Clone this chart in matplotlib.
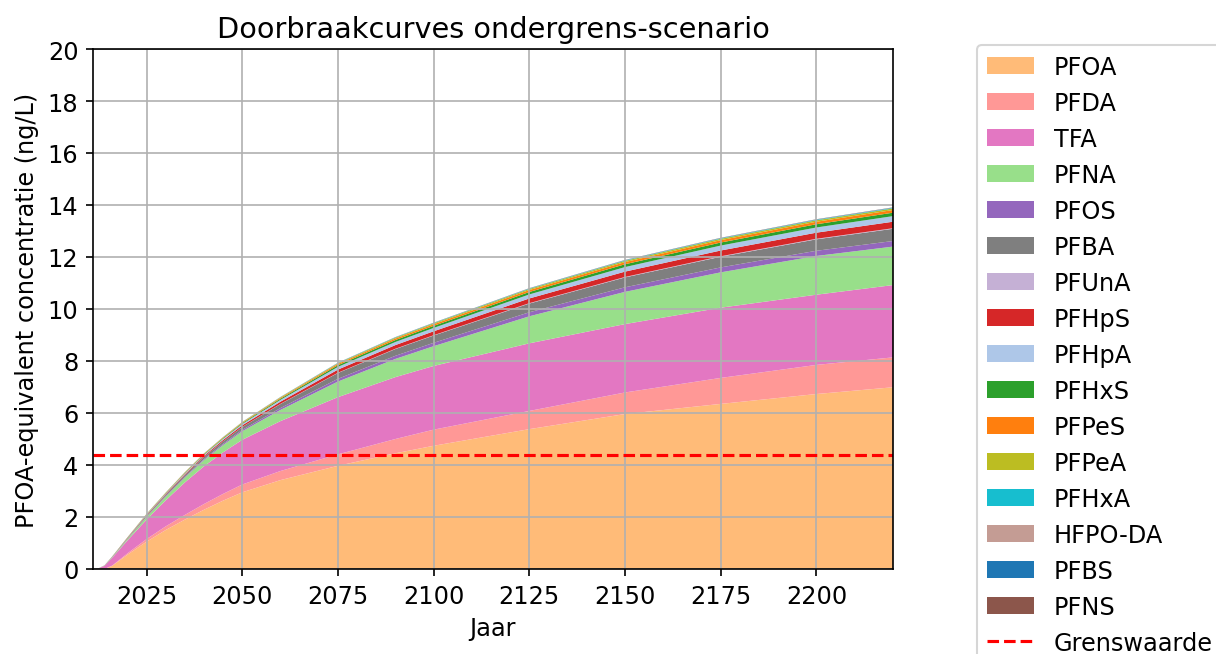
import matplotlib.pyplot as plt

years = [2011, 2012, 2014, 2016, 2020, 2025, 2030, 2035, 2040, 2045, 2050, 2060,
         2075, 2090, 2100, 2125, 2150, 2175, 2200, 2220]

# Concentrations (ng/L, PFOA-equivalent) per compound
pfoa = [0, 0, 0.0, 0.12, 0.55, 1.05, 1.5, 1.9, 2.28, 2.63, 2.95, 3.42,
        3.97, 4.45, 4.74, 5.38, 5.96, 6.35, 6.73, 6.99]
pfda = [0, 0, 0.0, 0.01, 0.05, 0.1, 0.14, 0.18, 0.22, 0.26, 0.3, 0.35,
        0.44, 0.55, 0.62, 0.7, 0.83, 1.0, 1.12, 1.15]
tfa = [0, 0, 0.12, 0.3, 0.5, 0.75, 1.0, 1.25, 1.45, 1.6, 1.72, 1.92,
       2.2, 2.38, 2.45, 2.6, 2.63, 2.7, 2.7, 2.78]
pfna = [0, 0, 0.01, 0.02, 0.05, 0.1, 0.14, 0.19, 0.24, 0.28, 0.33, 0.43,
        0.6, 0.7, 0.76, 1.04, 1.24, 1.36, 1.49, 1.48]
pfos = [0, 0, 0.002, 0.005, 0.01, 0.018, 0.024, 0.03, 0.038, 0.045, 0.052, 0.072,
        0.105, 0.12, 0.13, 0.155, 0.175, 0.19, 0.2, 0.215]
pfba = [0, 0, 0.003, 0.01, 0.022, 0.038, 0.05, 0.064, 0.08, 0.095, 0.11, 0.155,
        0.225, 0.26, 0.28, 0.335, 0.38, 0.41, 0.44, 0.47]
pfuna = [0, 0, 0, 0.0005, 0.001, 0.002, 0.002, 0.003, 0.004, 0.0045, 0.005, 0.008,
         0.01, 0.012, 0.013, 0.016, 0.018, 0.02, 0.021, 0.022]
pfhps = [0, 0, 0.002, 0.005, 0.012, 0.02, 0.027, 0.034, 0.042, 0.05, 0.06, 0.082,
         0.12, 0.14, 0.15, 0.18, 0.205, 0.22, 0.235, 0.25]
pfhpa = [0, 0, 0.002, 0.004, 0.01, 0.018, 0.024, 0.03, 0.037, 0.045, 0.052, 0.072,
         0.105, 0.12, 0.13, 0.155, 0.175, 0.19, 0.2, 0.215]
pfhxs = [0, 0, 0.001, 0.003, 0.006, 0.011, 0.014, 0.018, 0.022, 0.027, 0.031, 0.043,
         0.063, 0.074, 0.079, 0.094, 0.108, 0.117, 0.124, 0.132]
pfpes = [0, 0, 0.001, 0.002, 0.005, 0.008, 0.011, 0.014, 0.017, 0.02, 0.024, 0.034,
         0.049, 0.057, 0.062, 0.074, 0.084, 0.091, 0.097, 0.103]
pfpea = [0, 0, 0, 0.001, 0.003, 0.005, 0.006, 0.008, 0.01, 0.012, 0.014, 0.019,
         0.028, 0.033, 0.035, 0.042, 0.048, 0.052, 0.055, 0.059]
pfhxa = [0, 0, 0, 0.0005, 0.001, 0.002, 0.002, 0.003, 0.004, 0.0045, 0.005, 0.007,
         0.01, 0.012, 0.013, 0.016, 0.018, 0.02, 0.021, 0.022]
hfpo_da = [0, 0, 0, 0, 0.0004, 0.0006, 0.0008, 0.001, 0.0013, 0.0015, 0.0018, 0.0025,
           0.0035, 0.004, 0.0044, 0.0053, 0.006, 0.0065, 0.007, 0.0074]
pfbs = [0, 0, 0, 0, 0.0004, 0.0006, 0.0008, 0.001, 0.0013, 0.0015, 0.0018, 0.0025,
        0.0035, 0.004, 0.0044, 0.0053, 0.006, 0.0065, 0.007, 0.0074]
pfns = [0, 0, 0, 0, 0.0004, 0.0006, 0.0008, 0.001, 0.0013, 0.0015, 0.0018, 0.0025,
        0.0035, 0.004, 0.0044, 0.0053, 0.006, 0.0065, 0.007, 0.0074]

labels = ['PFOA', 'PFDA', 'TFA', 'PFNA', 'PFOS', 'PFBA', 'PFUnA', 'PFHpS',
          'PFHpA', 'PFHxS', 'PFPeS', 'PFPeA', 'PFHxA', 'HFPO-DA', 'PFBS', 'PFNS']
grenswaarde = 4.4

colors = ['#ffbb78', '#ff9896', '#e377c2', '#98df8a', '#9467bd', '#7f7f7f',
          '#c5b0d5', '#d62728', '#aec7e8', '#2ca02c', '#ff7f0e', '#bcbd22',
          '#17becf', '#c49c94', '#1f77b4', '#8c564b']

plt.rcParams['font.size'] = 11.5

fig = plt.figure(figsize=(1216 / 150, 655 / 150), dpi=150)
ax = fig.add_axes([93 / 1216, 1 - 570 / 655, 800 / 1216, 520 / 655])

ax.stackplot(years, pfoa, pfda, tfa, pfna, pfos, pfba, pfuna, pfhps, pfhpa,
             pfhxs, pfpes, pfpea, pfhxa, hfpo_da, pfbs, pfns,
             labels=labels, colors=colors)
ax.axhline(grenswaarde, color='red', linestyle='--', linewidth=1.5,
           label='Grenswaarde')

ax.set_xlim(2011, 2220)
ax.set_ylim(0, 20)
ax.set_xticks(range(2025, 2201, 25))
ax.set_yticks(range(0, 21, 2))
ax.grid(True)

ax.set_title('Doorbraakcurves ondergrens-scenario')
ax.set_xlabel('Jaar')
ax.set_ylabel('PFOA-equivalent concentratie (ng/L)')
ax.legend(loc='upper left', bbox_to_anchor=(1.09, 1.03))

fig.savefig('out.png', dpi=150)
